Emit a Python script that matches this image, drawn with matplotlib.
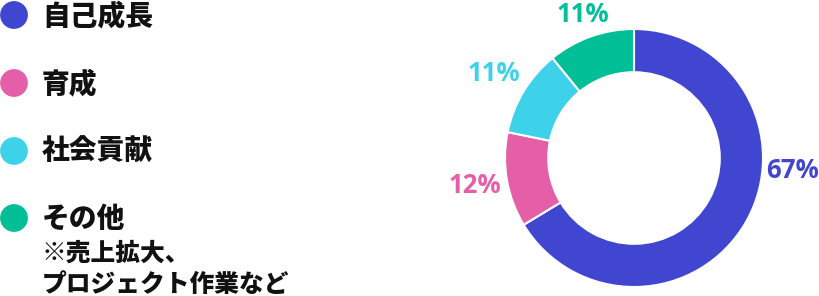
import numpy as np
import matplotlib.pyplot as plt

plt.rcParams['font.family'] = ['Noto Sans CJK JP', 'DejaVu Sans']

# data
categories = ['自己成長', '育成', '社会貢献', 'その他']
notes = ['', '', '', '※売上拡大、\nプロジェクト作業など']
values = [67, 12, 11, 11]
colors = ['#4146D0', '#E45FA8', '#3ED2EA', '#00BE96']

fig = plt.figure(figsize=(8.2, 2.96), dpi=100)

# legend on the left, in pixel coordinates
lax = fig.add_axes([0, 0, 1, 1])
lax.set_xlim(0, 820)
lax.set_ylim(296, 0)
lax.axis('off')
row_y = [15, 83, 151, 218]
for y, cat, note, c in zip(row_y, categories, notes, colors):
    lax.scatter([14], [y], s=400, color=c, edgecolors='none')
    lax.text(42, y + 1, cat, fontsize=20, fontweight='heavy', color='#111111',
             va='center', ha='left')
    if note:
        lax.text(42, y + 22, note, fontsize=17.8, fontweight='heavy', color='#111111',
                 va='top', ha='left', linespacing=1.22)

# donut: centre (634, 158) px, radius 129 px
size = 387
ax = fig.add_axes([(634 - size / 2) / 820, (138 - size / 2) / 296, size / 820, size / 296])
wedges, _ = ax.pie(values, colors=colors, startangle=90, counterclock=False, radius=1,
                   wedgeprops=dict(width=0.335, edgecolor='white', linewidth=1.5))
ax.set_xlim(-1.5, 1.5)
ax.set_ylim(-1.5, 1.5)
ax.set_aspect('equal')
ax.axis('off')

# percent labels around the ring
angle_shift = [25, 0, 0, 0]
label_dist = [1.235, 1.25, 1.27, 1.18]
for w, v, c, sh, d in zip(wedges, values, colors, angle_shift, label_dist):
    ang = np.deg2rad((w.theta1 + w.theta2) / 2 + sh)
    ax.text(d * np.cos(ang), d * np.sin(ang), f'{v}%', color=c, fontsize=18.5,
            fontweight='bold', family='Open Sans', ha='center', va='center',
            clip_on=False)

fig.savefig('out.png', dpi=100)
